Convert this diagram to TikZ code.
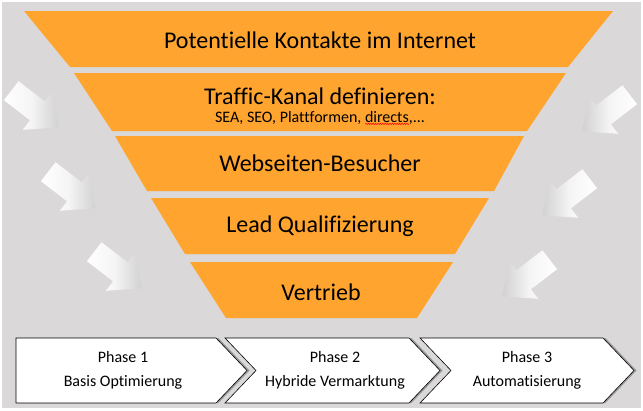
\documentclass[tikz,border=0pt]{standalone}
\usepackage{fontspec}
\setmainfont[Ligatures=NoCommon,RawFeature={-liga;-clig;-dlig}]{Carlito}
\usetikzlibrary{decorations.pathmorphing}
\definecolor{bggray}{HTML}{DAD8D8}
\definecolor{funnel}{HTML}{FFA52F}
\newlength\errlen
\newcommand\spellerr[1]{\settowidth\errlen{#1}\leavevmode\rlap{\raisebox{-2.6pt}{\tikz\draw[red,line width=0.5pt,decorate,decoration={snake,amplitude=0.7pt,segment length=2.4pt}] (0pt,0pt)--(\errlen,0pt);}}#1}
\begin{document}
\begin{tikzpicture}[x=1pt,y=-1pt,
  layer/.style={fill=funnel},
  bigtext/.style={font=\fontsize{24}{28}\selectfont, inner sep=0pt},
  smalltext/.style={font=\fontsize{16}{19}\selectfont, inner sep=0pt},
  phasetext/.style={font=\fontsize{16}{24}\selectfont, align=center, inner sep=0pt},
  phasebox/.style={fill=white, draw=black, line width=0.6pt, line join=miter},
  phaseshadow/.style={fill=black!40},
  garrowL/.pic={\path[left color=white, right color=black!18, middle color=white!96!black]
      (-30,-12) -- (3,-12) -- (3,-24) -- (30,0) -- (3,24) -- (3,12) -- (-30,12) -- cycle;},
  garrowR/.pic={\path[left color=black!18, right color=white, middle color=white!96!black]
      (-30,-12) -- (3,-12) -- (3,-24) -- (30,0) -- (3,24) -- (3,12) -- (-30,12) -- cycle;}
]
\useasboundingbox (0,0) rectangle (643,410);
\fill[bggray] (2,2) rectangle (641,408);

% funnel layers
\fill[layer] (24,11) -- (613,11) -- (568,67) -- (70,67) -- cycle;
\fill[layer] (74,73) -- (566,73) -- (527,131) -- (112,131) -- cycle;
\fill[layer] (115,136) -- (524,136) -- (494,191) -- (147,191) -- cycle;
\fill[layer] (151,198) -- (489,198) -- (455,254) -- (185,254) -- cycle;
\fill[layer] (190,262) -- (453,262) -- (417,318) -- (226,318) -- cycle;

\node[bigtext] (t1) at (320,40) {Potentielle Kontakte im Internet};
\node[bigtext] (t2) at (320,96) {Traffic-Kanal definieren:};
\node[smalltext] (t2b) at (320,118) {SEA, SEO, Plattformen, \spellerr{directs},...};
\node[bigtext] (t3) at (320,163) {Webseiten-Besucher};
\node[bigtext] (t4) at (320,226) {Lead Qualifizierung};
\node[bigtext] (t5) at (321,292) {Vertrieb};

% side arrows
\pic[rotate=-37.6] at (35,109) {garrowL};
\pic[rotate=-37.6] at (72,190) {garrowL};
\pic[rotate=-37.6] at (118,270) {garrowL};
\pic[rotate=-142.4] at (606,113) {garrowR};
\pic[rotate=-142.4] at (566,197) {garrowR};
\pic[rotate=-142.4] at (526,278) {garrowR};

% phases
\fill[phaseshadow] (18.5,338) -- (218.5,338) -- (249.5,370.5) -- (218.5,403) -- (18.5,403) -- cycle;
\fill[phaseshadow] (227.5,338) -- (411.5,338) -- (442.5,370.5) -- (411.5,403) -- (227.5,403) -- (258.5,370.5) -- cycle;
\fill[phaseshadow] (422.5,338) -- (605.5,338) -- (636.5,370.5) -- (605.5,403) -- (422.5,403) -- (453.5,370.5) -- cycle;
\path[phasebox] (16,338) -- (216,338) -- (247,370.5) -- (216,403) -- (16,403) -- cycle;
\path[phasebox] (225,338) -- (409,338) -- (440,370.5) -- (409,403) -- (225,403) -- (256,370.5) -- cycle;
\path[phasebox] (420,338) -- (603,338) -- (634,370.5) -- (603,403) -- (420,403) -- (451,370.5) -- cycle;

\node[phasetext] (p1) at (123,370) {Phase 1\\Basis Optimierung};
\node[phasetext] (p2) at (335,370) {Phase 2\\Hybride Vermarktung};
\node[phasetext] (p3) at (527,370) {Phase 3\\Automatisierung};
\end{tikzpicture}
\end{document}
